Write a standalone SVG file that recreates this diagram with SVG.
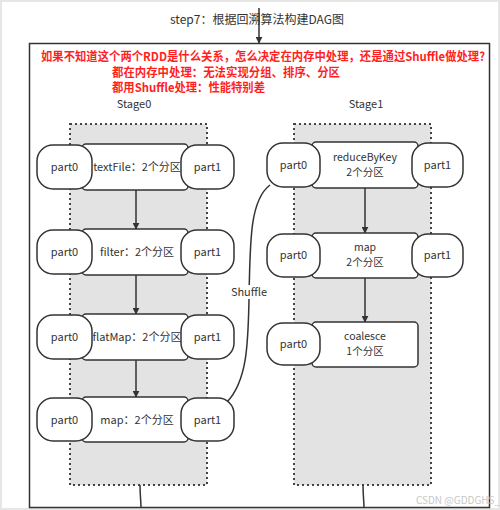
<svg xmlns="http://www.w3.org/2000/svg" width="500" height="510" viewBox="0 0 500 510">
<style>
text{font-family:"Noto Sans CJK SC","Noto Sans",sans-serif;fill:#333}
.t{font-size:11px;text-anchor:middle}
.t2{font-size:10.5px;text-anchor:middle}
.red{font-size:12px;font-weight:bold;fill:#ff1f1f}
.pill{fill:#fff;stroke:#333;stroke-width:1.5}
.rect{fill:#fff;stroke:#333;stroke-width:1.5}
.stage{fill:#e3e3e3;stroke:#444;stroke-width:2;stroke-dasharray:2 3}
.edge{stroke:#333;stroke-width:1.5;fill:none}
</style>
<defs>
<marker id="ah" viewBox="0 0 10 10" refX="9" refY="5" markerWidth="7" markerHeight="7" orient="auto" markerUnits="userSpaceOnUse"><path d="M0,0L10,5L0,10z" fill="#333"/></marker>
</defs>
<rect x="1" y="1" width="498" height="508" fill="#fff" stroke="#e6e6e6" stroke-width="2"/>
<text x="257" y="24" class="t" style="font-size:12px">step7：根据回溯算法构建DAG图</text>
<rect x="29.5" y="43.5" width="460" height="464" fill="none" stroke="#333" stroke-width="1.5"/>
<g id="notes">
<text x="41" y="61" class="red" textLength="444" lengthAdjust="spacingAndGlyphs">如果不知道这个两个RDD是什么关系，怎么决定在内存中处理，还是通过Shuffle做处理?</text>
<text x="112" y="77" class="red" textLength="228" lengthAdjust="spacingAndGlyphs">都在内存中处理：无法实现分组、排序、分区</text>
<text x="112" y="92" class="red" textLength="153" lengthAdjust="spacingAndGlyphs">都用Shuffle处理：性能特别差</text>
</g>
<g id="stage0">
<rect x="70" y="124" width="137" height="361" class="stage"/>
<text x="134" y="108" class="t">Stage0</text>
</g>
<g id="stage1">
<rect x="294" y="124" width="137" height="361" class="stage"/>
<text x="366" y="108" class="t">Stage1</text>
</g>
<g id="connectors">
<line x1="259" y1="8" x2="259" y2="43" class="edge" marker-end="url(#ah)"/>
<line x1="136" y1="190" x2="136" y2="229" class="edge" marker-end="url(#ah)"/>
<line x1="136" y1="275" x2="136" y2="314" class="edge" marker-end="url(#ah)"/>
<line x1="136" y1="360" x2="136" y2="397" class="edge" marker-end="url(#ah)"/>
<line x1="365" y1="188" x2="365" y2="233" class="edge" marker-end="url(#ah)"/>
<line x1="365" y1="278" x2="365" y2="322" class="edge" marker-end="url(#ah)"/>
<path d="M227,402 C248,380 248,340 249,300 C250,240 250,200 270,185" class="edge"/>
<path d="M140,485 C140,495 141,502 141,507" class="edge"/>
<path d="M363,485 C363,495 364,502 364,507" class="edge"/>
<rect x="229" y="285" width="40" height="14" fill="#fff"/>
<text x="249" y="296" class="t">Shuffle</text>
</g>
<g id="textFile">
<rect x="82" y="144" width="106" height="46" rx="4" class="rect"/>
<rect x="37" y="145" width="55" height="44" rx="16" class="pill"/>
<rect x="181" y="145" width="53" height="44" rx="16" class="pill"/>
<text x="64.5" y="171" class="t">part0</text>
<text x="137" y="171" class="t">textFile：2个分区</text>
<text x="207.5" y="171" class="t">part1</text>
</g>
<g id="filter">
<rect x="82" y="229" width="106" height="46" rx="4" class="rect"/>
<rect x="37" y="230" width="55" height="44" rx="16" class="pill"/>
<rect x="181" y="230" width="53" height="44" rx="16" class="pill"/>
<text x="64.5" y="256" class="t">part0</text>
<text x="137" y="256" class="t">filter：2个分区</text>
<text x="207.5" y="256" class="t">part1</text>
</g>
<g id="flatMap">
<rect x="82" y="314" width="106" height="46" rx="4" class="rect"/>
<rect x="37" y="315" width="55" height="44" rx="16" class="pill"/>
<rect x="181" y="315" width="53" height="44" rx="16" class="pill"/>
<text x="64.5" y="341" class="t">part0</text>
<text x="137" y="341" class="t">flatMap：2个分区</text>
<text x="207.5" y="341" class="t">part1</text>
</g>
<g id="map0">
<rect x="82" y="397" width="106" height="45" rx="4" class="rect"/>
<rect x="37" y="398" width="55" height="43" rx="16" class="pill"/>
<rect x="181" y="398" width="53" height="43" rx="16" class="pill"/>
<text x="64.5" y="424" class="t">part0</text>
<text x="137" y="424" class="t">map：2个分区</text>
<text x="207.5" y="424" class="t">part1</text>
</g>
<g id="reduceByKey">
<rect x="312" y="142" width="106" height="46" rx="4" class="rect"/>
<rect x="267" y="143" width="53" height="44" rx="16" class="pill"/>
<rect x="412" y="143" width="51" height="44" rx="16" class="pill"/>
<text x="293.5" y="169" class="t">part0</text>
<text x="365" y="161" class="t2">reduceByKey</text>
<text x="365" y="176" class="t2">2个分区</text>
<text x="437.5" y="169" class="t">part1</text>
</g>
<g id="map1">
<rect x="312" y="233" width="106" height="45" rx="4" class="rect"/>
<rect x="267" y="234" width="53" height="43" rx="16" class="pill"/>
<rect x="412" y="234" width="51" height="43" rx="16" class="pill"/>
<text x="293.5" y="259" class="t">part0</text>
<text x="365" y="251" class="t2">map</text>
<text x="365" y="266" class="t2">2个分区</text>
<text x="437.5" y="259" class="t">part1</text>
</g>
<g id="coalesce">
<rect x="312" y="322" width="106" height="45" rx="4" class="rect"/>
<rect x="267" y="323" width="53" height="42" rx="16" class="pill"/>
<text x="293.5" y="348" class="t">part0</text>
<text x="365" y="340" class="t2">coalesce</text>
<text x="365" y="355" class="t2">1个分区</text>
</g>
<text x="458" y="504" class="t" style="font-size:10px;fill:#c8c8c8">CSDN @GDDGHS_</text>
</svg>
